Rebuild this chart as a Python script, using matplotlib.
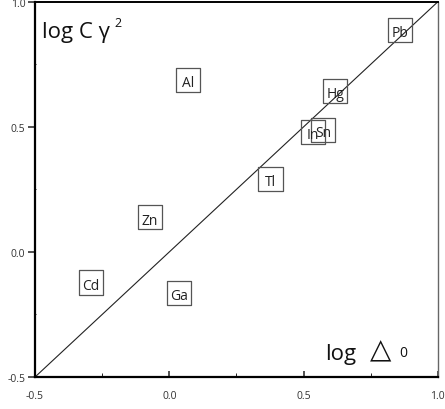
import matplotlib.pyplot as plt

plt.rcParams['font.family'] = ['Open Sans', 'DejaVu Sans']

# element labels and positions (log delta0, log C gamma^2)
elements = ['Pb', 'Al', 'Hg', 'In', 'Sn', 'Tl', 'Zn', 'Cd', 'Ga']
log_delta = [0.86, 0.069, 0.619, 0.535, 0.572, 0.377, -0.072, -0.292, 0.035]
log_cgamma = [0.888, 0.688, 0.644, 0.48, 0.488, 0.292, 0.138, -0.122, -0.164]

line_x = [-0.5, 1.0]
line_y = [-0.5, 1.0]

fig = plt.figure(figsize=(4.45, 4.1), dpi=100)
ax = fig.add_axes([0.0787, 0.078, 0.905, 0.915])

ax.plot(line_x, line_y, color='#222222', lw=0.8)
ax.scatter(log_delta, log_cgamma, marker='s', s=300, facecolors='none',
           edgecolors='#555555', linewidths=0.9, zorder=3)
for name, x, y in zip(elements, log_delta, log_cgamma):
    ax.text(x, y - 0.012, name, ha='center', va='center', fontsize=10,
            color='#222222', zorder=4)

ax.set_xlim(-0.5, 1.0)
ax.set_ylim(-0.5, 1.0)
ax.set_xticks([-0.5, 0.0, 0.5, 1.0])
ax.set_yticks([-0.5, 0.0, 0.5, 1.0])
ax.set_xticks([-0.25, 0.25, 0.75], minor=True)
ax.set_yticks([-0.25, 0.25, 0.75], minor=True)
ax.set_xticklabels(['-0.5', '0.0', '0.5', '1.0'])
ax.set_yticklabels(['-0.5', '0.0', '0.5', '1.0'])
ax.tick_params(axis='x', which='major', direction='in', length=4, width=1.2,
               labelsize=7.5, pad=9, colors='#333333')
ax.tick_params(axis='x', which='minor', direction='in', length=3, width=0.6)
ax.tick_params(axis='y', which='major', direction='out', length=5, width=1.2,
               labelsize=7.5, pad=2, colors='#333333')
ax.tick_params(axis='y', which='minor', direction='in', length=1, width=0.6)

for s in ['left', 'bottom']:
    ax.spines[s].set_linewidth(1.6)
ax.spines['top'].set_linewidth(1.4)
ax.spines['right'].set_linewidth(1.0)
ax.spines['right'].set_color('#666666')

ax.text(0.018, 0.92, 'log C \u03b3', transform=ax.transAxes,
        fontsize=16, va='center', ha='left', color='#111111')
ax.text(0.197, 0.945, '2', transform=ax.transAxes,
        fontsize=9, va='center', ha='left', color='#111111')
ax.text(0.72, 0.062, 'log', transform=ax.transAxes, fontsize=16,
        va='center', ha='left', color='#111111')
ax.text(0.832, 0.074, '\u25b3', transform=ax.transAxes, fontsize=20,
        va='center', ha='left', color='#111111', family=['DejaVu Sans'])
ax.text(0.905, 0.066, '0', transform=ax.transAxes, fontsize=10,
        va='center', ha='left', color='#111111')

fig.savefig('out.png', dpi=100)
